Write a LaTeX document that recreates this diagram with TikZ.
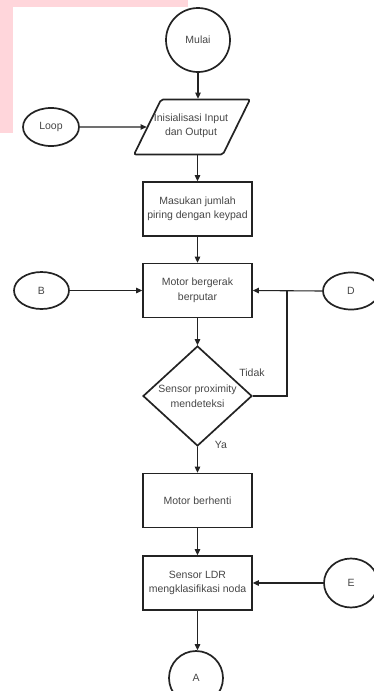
\documentclass[tikz,border=0pt]{standalone}
\usepackage{fontspec}
\setmainfont{Liberation Sans}
\usetikzlibrary{arrows.meta, shapes.geometric, calc}

\definecolor{bgpink}{RGB}{255,214,219}
\definecolor{txtgray}{RGB}{70,70,70}
\definecolor{linegray}{RGB}{35,35,35}

\begin{document}
\begin{tikzpicture}[x=1pt, y=-1pt,
		shape line/.style={draw=linegray, line width=1.7pt},
		proc/.style={shape line, rectangle, minimum width=109pt, minimum height=54pt, inner sep=0pt},
		term/.style={shape line, ellipse, inner sep=0pt},
		io/.style={shape line, trapezium, trapezium left angle=67, trapezium right angle=113, rounded corners=2pt, minimum width=116pt, minimum height=55pt, inner sep=2pt, trapezium stretches=true},
		decision/.style={shape line, diamond, minimum width=109pt, minimum height=100pt, inner sep=0pt},
		txt/.style={text=txtgray, align=center, font=\fontsize{10.5}{14.5}\selectfont},
		arr/.style={draw=linegray, line width=1.1pt, -{Triangle[length=6pt, width=5.5pt]}},
		ln/.style={draw=linegray, line width=1.1pt}]
			\useasboundingbox (0, 0) rectangle (374, 691);
			
			\fill[bgpink] (0, 0) rectangle (188, 7);
			\fill[bgpink] (0, 0) rectangle (13, 133);
			
			\node [term, minimum width=64pt, minimum height=64pt, txt] (Mulai) at (198, 40) {Mulai};
			\node [io] (Init) at (192, 127) {\phantom{x}};
			\node [txt] (Initlabel) at (191, 126) {Inisialisasi Input\\dan Output};
			\node [term, minimum width=56pt, minimum height=38pt, txt] (Loop) at (51, 127) {Loop};
			
			\node [proc, txt] (Masukan) at (197.5, 209) {Masukan jumlah\\piring dengan keypad};
			\node [proc, txt] (Bergerak) at (197.5, 290.5) {Motor bergerak\\berputar};
			\node [term, minimum width=55pt, minimum height=37pt, txt] (B) at (41.5, 290.5) {B};
			\node [term, minimum width=56pt, minimum height=37pt, txt] (D) at (351, 291) {D};
			
			\node [decision] (Sensor) at (197.5, 396) {};
			\node [txt] (Sensorlabel) at (Sensor) {Sensor proximity\\mendeteksi};
			\node [txt] (Tidak) at (252, 373) {Tidak};
			\node [txt] (Ya) at (221, 445) {Ya};
			
			\node [proc, txt] (Berhenti) at (197.5, 500.5) {Motor berhenti};
			\node [proc, txt] (LDR) at (197.5, 583) {Sensor LDR\\mengklasifikasi noda};
			\node [term, minimum width=54pt, minimum height=49pt, txt] (E) at (351, 583) {E};
			\node [term, minimum width=54pt, minimum height=54pt, txt] (A) at (196, 678) {A};
			
			\coordinate (Jn) at (287, 290.5);
			
			\draw[arr] (Mulai.south) -- (Mulai.south |- Init.north);
			\draw[arr] (Loop.east) -- (Init.west);
			\draw[arr] (Masukan.north |- Init.south) -- (Masukan.north);
			\draw[arr] (Masukan.south) -- (Bergerak.north);
			\draw[arr] (B.east) -- (Bergerak.west);
			\draw[arr] (D.west) -- (Bergerak.east);
			\draw[arr] (Bergerak.south) -- (Sensor.north);
			\draw[ln] (Sensor.east) -| (Jn);
			\draw[arr] (Sensor.south) -- (Berhenti.north);
			\draw[arr] (Berhenti.south) -- (LDR.north);
			\draw[arr] (E.west) -- (LDR.east);
			\draw[arr] (LDR.south) -- (LDR.south |- A.north);
		\end{tikzpicture}
\end{document}
